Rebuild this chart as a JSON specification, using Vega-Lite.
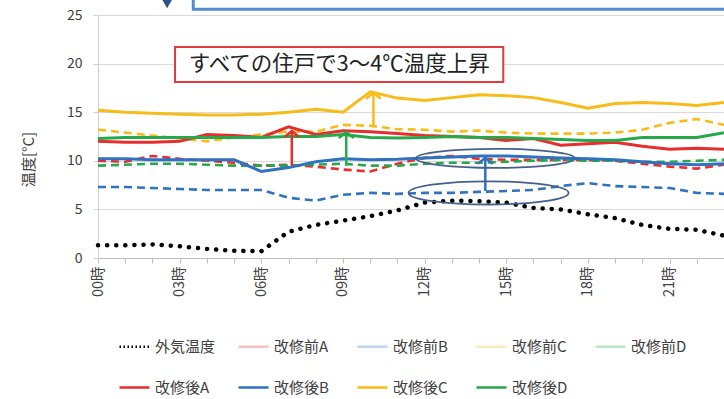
{
  "$schema": "https://vega.github.io/schema/vega-lite/v6.json",
  "autosize": {"type": "none"},
  "padding": {"left": 98, "top": 15, "right": 0, "bottom": 141},
  "width": 626,
  "height": 243,
  "config": {"view": {"stroke": null}, "font": "Noto Sans CJK JP"},
  "datasets": {
    "main": [
      {"h": 0, "外気温度": 1.3, "改修前A": 10.0, "改修前B": 7.3, "改修前C": 13.2, "改修前D": 9.5, "改修後A": 12.0, "改修後B": 10.2, "改修後C": 15.2, "改修後D": 12.3},
      {"h": 1, "外気温度": 1.3, "改修前A": 9.9, "改修前B": 7.3, "改修前C": 12.9, "改修前D": 9.6, "改修後A": 11.9, "改修後B": 10.2, "改修後C": 15.0, "改修後D": 12.4},
      {"h": 2, "外気温度": 1.4, "改修前A": 10.5, "改修前B": 7.2, "改修前C": 12.6, "改修前D": 9.7, "改修後A": 11.9, "改修後B": 10.1, "改修後C": 14.9, "改修後D": 12.4},
      {"h": 3, "外気温度": 1.2, "改修前A": 10.2, "改修前B": 7.1, "改修前C": 12.3, "改修前D": 9.7, "改修後A": 12.0, "改修後B": 10.1, "改修後C": 14.8, "改修後D": 12.4},
      {"h": 4, "外気温度": 0.93, "改修前A": 10.0, "改修前B": 7.0, "改修前C": 12.0, "改修前D": 9.6, "改修後A": 12.7, "改修後B": 10.1, "改修後C": 14.7, "改修後D": 12.4},
      {"h": 5, "外気温度": 0.75, "改修前A": 9.8, "改修前B": 7.0, "改修前C": 12.4, "改修前D": 9.5, "改修後A": 12.6, "改修後B": 10.1, "改修後C": 14.7, "改修後D": 12.4},
      {"h": 6, "外気温度": 0.7, "改修前A": 9.5, "改修前B": 7.0, "改修前C": 12.7, "改修前D": 9.5, "改修後A": 12.4, "改修後B": 8.9, "改修後C": 14.8, "改修後D": 12.4},
      {"h": 7, "外気温度": 2.7, "改修前A": 9.6, "改修前B": 6.2, "改修前C": 13.0, "改修前D": 9.5, "改修後A": 13.5, "改修後B": 9.3, "改修後C": 15.0, "改修後D": 12.5},
      {"h": 8, "外気温度": 3.4, "改修前A": 9.4, "改修前B": 5.9, "改修前C": 13.0, "改修前D": 9.6, "改修後A": 12.7, "改修後B": 9.9, "改修後C": 15.3, "改修後D": 12.5},
      {"h": 9, "外気温度": 3.85, "改修前A": 9.1, "改修前B": 6.5, "改修前C": 13.7, "改修前D": 9.7, "改修後A": 13.1, "改修後B": 10.2, "改修後C": 15.0, "改修後D": 12.7},
      {"h": 10, "外気温度": 4.3, "改修前A": 8.9, "改修前B": 6.7, "改修前C": 13.6, "改修前D": 9.5, "改修後A": 13.0, "改修後B": 10.1, "改修後C": 17.1, "改修後D": 12.4},
      {"h": 11, "外気温度": 4.9, "改修前A": 9.7, "改修前B": 6.6, "改修前C": 13.25, "改修前D": 9.5, "改修後A": 12.8, "改修後B": 10.15, "改修後C": 16.45, "改修後D": 12.35},
      {"h": 12, "外気温度": 5.7, "改修前A": 10.3, "改修前B": 6.7, "改修前C": 13.2, "改修前D": 9.7, "改修後A": 12.6, "改修後B": 10.3, "改修後C": 16.2, "改修後D": 12.4},
      {"h": 13, "外気温度": 5.9, "改修前A": 10.5, "改修前B": 6.7, "改修前C": 13.0, "改修前D": 9.8, "改修後A": 12.5, "改修後B": 10.4, "改修後C": 16.5, "改修後D": 12.5},
      {"h": 14, "外気温度": 5.85, "改修前A": 10.2, "改修前B": 6.8, "改修前C": 13.1, "改修前D": 9.8, "改修後A": 12.4, "改修後B": 10.5, "改修後C": 16.8, "改修後D": 12.4},
      {"h": 15, "外気温度": 5.7, "改修前A": 10.1, "改修前B": 6.9, "改修前C": 12.9, "改修前D": 9.9, "改修後A": 12.1, "改修後B": 10.5, "改修後C": 16.7, "改修後D": 12.4},
      {"h": 16, "外気温度": 5.15, "改修前A": 10.1, "改修前B": 7.0, "改修前C": 12.8, "改修前D": 10.0, "改修後A": 12.3, "改修後B": 10.4, "改修後C": 16.5, "改修後D": 12.3},
      {"h": 17, "外気温度": 5.0, "改修前A": 10.1, "改修前B": 7.4, "改修前C": 12.8, "改修前D": 10.1, "改修後A": 11.6, "改修後B": 10.3, "改修後C": 16.0, "改修後D": 12.2},
      {"h": 18, "外気温度": 4.5, "改修前A": 10.1, "改修前B": 7.7, "改修前C": 12.8, "改修前D": 10.0, "改修後A": 11.75, "改修後B": 10.2, "改修後C": 15.4, "改修後D": 12.1},
      {"h": 19, "外気温度": 4.1, "改修前A": 10.0, "改修前B": 7.4, "改修前C": 12.9, "改修前D": 10.0, "改修後A": 11.9, "改修後B": 10.1, "改修後C": 15.9, "改修後D": 12.1},
      {"h": 20, "外気温度": 3.4, "改修前A": 9.7, "改修前B": 7.3, "改修前C": 13.2, "改修前D": 9.9, "改修後A": 11.5, "改修後B": 9.9, "改修後C": 16.0, "改修後D": 12.4},
      {"h": 21, "外気温度": 3.0, "改修前A": 9.4, "改修前B": 7.2, "改修前C": 13.9, "改修前D": 9.9, "改修後A": 11.2, "改修後B": 9.7, "改修後C": 15.9, "改修後D": 12.4},
      {"h": 22, "外気温度": 2.9, "改修前A": 9.2, "改修前B": 6.7, "改修前C": 14.3, "改修前D": 10.0, "改修後A": 11.3, "改修後B": 9.6, "改修後C": 15.7, "改修後D": 12.4},
      {"h": 23, "外気温度": 2.3, "改修前A": 9.6, "改修前B": 6.6, "改修前C": 13.7, "改修前D": 10.1, "改修後A": 11.2, "改修後B": 9.7, "改修後C": 16.0, "改修後D": 12.9}
    ],
    "arrows": [
      {"s": "改修後A", "h": 7.12, "t": 13.05, "t0": 9.5},
      {"s": "改修後D", "h": 9.12, "t": 12.95, "t0": 9.5},
      {"s": "改修後C", "h": 10.12, "t": 17.0, "t0": 13.6},
      {"s": "改修後B", "h": 14.23, "t": 10.3, "t0": 6.9}
    ],
    "ellipses": [
      {"e": "upper", "h": 14.6, "t": 10.25},
      {"e": "lower", "h": 14.35, "t": 6.7}
    ],
    "box": [{"h": 2.83, "h2": 14.89, "t": 21.7, "t2": 18.1}],
    "boxText": [{"h": 8.86, "t": 19.9, "label": "すべての住戸で3～4℃温度上昇"}],
    "topBox": [{"h": 3.5, "h2": 24.5, "t": 25.6, "t2": 28.5}],
    "topMark": [{"h": 2.54, "t": 26.2}]
  },
  "encoding": {
    "x": {
      "field": "h", "type": "quantitative",
      "scale": {"domain": [0, 23], "nice": false, "zero": false},
      "axis": {
        "title": null,
        "values": [0,1,2,3,4,5,6,7,8,9,10,11,12,13,14,15,16,17,18,19,20,21,22,23],
        "labelExpr": "datum.value % 3 === 0 ? (datum.value < 10 ? '0' : '') + datum.value + '時' : ''",
        "labelAngle": -90,
        "grid": false,
        "tickSize": 5,
        "tickColor": "#bfbfbf",
        "domainColor": "#bfbfbf",
        "labelFontSize": 14.5,
        "labelColor": "#404040",
        "labelPadding": 3,
        "labelOverlap": false,
        "labelFlush": false,
        "labelBound": false
      }
    },
    "y": {
      "field": "t", "type": "quantitative",
      "scale": {"domain": [0, 25], "nice": false},
      "axis": {
        "title": "温度[°C]",
        "values": [0, 5, 10, 15, 20, 25],
        "grid": true,
        "gridColor": "#d9d9d9",
        "domainColor": "#d0d0d0",
        "tickColor": "#d0d0d0",
        "tickSize": 5,
        "labelFontSize": 14,
        "labelColor": "#404040",
        "labelPadding": 11,
        "titleFontSize": 15,
        "titleFontWeight": "normal",
        "titleColor": "#404040",
        "titlePadding": 30,
        "titleY": 144
      }
    }
  },
  "layer": [
    {
      "data": {"name": "topBox"},
      "mark": {"type": "rect", "fill": "#ffffff", "stroke": "#4f8fcf", "strokeWidth": 3},
      "encoding": {"x2": {"field": "h2"}, "y2": {"field": "t2"}}
    },
    {
      "data": {"name": "topMark"},
      "mark": {"type": "point", "shape": "triangle-down", "filled": true, "color": "#2f4f8f", "size": 130, "opacity": 1}
    },
    {
      "data": {"name": "main"},
      "transform": [
        {"fold": ["外気温度","改修前A","改修前B","改修前C","改修前D","改修後A","改修後B","改修後C","改修後D"], "as": ["s", "t"]},
        {"filter": "datum.s === '外気温度'"}
      ],
      "mark": {"type": "line", "strokeDash": [0.1, 9], "strokeCap": "round", "strokeWidth": 4.5},
      "encoding": {
        "color": {
          "field": "s", "type": "nominal",
          "scale": {
            "domain": ["外気温度","改修前A","改修前B","改修前C","改修前D","改修後A","改修後B","改修後C","改修後D"],
            "range": ["#000000","#e62e2e","#2f72c0","#f7bc19","#27a84a","#e62e2e","#2f72c0","#f7bc19","#27a84a"]
          },
          "legend": {
            "title": null, "orient": "none", "legendX": 20, "legendY": 315,
            "direction": "horizontal", "columns": 5, "gridAlign": "all",
            "symbolType": "stroke", "symbolSize": 900, "symbolStrokeWidth": 2.5,
            "labelFontSize": 15, "labelColor": "#404040", "labelFont": "Noto Sans CJK JP",
            "labelOffset": 4, "columnPadding": 17, "rowPadding": 16, "padding": 0, "labelLimit": 200,
            "encode": {"symbols": {"update": {
              "strokeDash": {"signal": "datum.value === '外気温度' ? [1.5, 2.5] : [1, 0]"},
              "opacity": {"signal": "indexof(datum.value, '改修前') === 0 ? 0.3 : 1"}
            }}}
          }
        }
      }
    },
    {
      "data": {"name": "main"},
      "transform": [
        {"fold": ["外気温度","改修前A","改修前B","改修前C","改修前D","改修後A","改修後B","改修後C","改修後D"], "as": ["s", "t"]},
        {"filter": "indexof(datum.s, '改修前') === 0"}
      ],
      "mark": {"type": "line", "strokeDash": [8, 5], "strokeWidth": 2.6},
      "encoding": {
        "color": {
          "field": "s", "type": "nominal",
          "scale": {
            "domain": ["外気温度","改修前A","改修前B","改修前C","改修前D","改修後A","改修後B","改修後C","改修後D"],
            "range": ["#000000","#e62e2e","#2f72c0","#f7bc19","#27a84a","#e62e2e","#2f72c0","#f7bc19","#27a84a"]
          },
          "legend": {
            "title": null, "orient": "none", "legendX": 20, "legendY": 315,
            "direction": "horizontal", "columns": 5, "gridAlign": "all",
            "symbolType": "stroke", "symbolSize": 900, "symbolStrokeWidth": 2.5,
            "labelFontSize": 15, "labelColor": "#404040", "labelFont": "Noto Sans CJK JP",
            "labelOffset": 4, "columnPadding": 17, "rowPadding": 16, "padding": 0, "labelLimit": 200,
            "encode": {"symbols": {"update": {
              "strokeDash": {"signal": "datum.value === '外気温度' ? [1.5, 2.5] : [1, 0]"},
              "opacity": {"signal": "indexof(datum.value, '改修前') === 0 ? 0.3 : 1"}
            }}}
          }
        }
      }
    },
    {
      "data": {"name": "main"},
      "transform": [
        {"fold": ["外気温度","改修前A","改修前B","改修前C","改修前D","改修後A","改修後B","改修後C","改修後D"], "as": ["s", "t"]},
        {"filter": "indexof(datum.s, '改修後') === 0"}
      ],
      "mark": {"type": "line", "strokeWidth": 3},
      "encoding": {
        "color": {
          "field": "s", "type": "nominal",
          "scale": {
            "domain": ["外気温度","改修前A","改修前B","改修前C","改修前D","改修後A","改修後B","改修後C","改修後D"],
            "range": ["#000000","#e62e2e","#2f72c0","#f7bc19","#27a84a","#e62e2e","#2f72c0","#f7bc19","#27a84a"]
          },
          "legend": {
            "title": null, "orient": "none", "legendX": 20, "legendY": 315,
            "direction": "horizontal", "columns": 5, "gridAlign": "all",
            "symbolType": "stroke", "symbolSize": 900, "symbolStrokeWidth": 2.5,
            "labelFontSize": 15, "labelColor": "#404040", "labelFont": "Noto Sans CJK JP",
            "labelOffset": 4, "columnPadding": 17, "rowPadding": 16, "padding": 0, "labelLimit": 200,
            "encode": {"symbols": {"update": {
              "strokeDash": {"signal": "datum.value === '外気温度' ? [1.5, 2.5] : [1, 0]"},
              "opacity": {"signal": "indexof(datum.value, '改修前') === 0 ? 0.3 : 1"}
            }}}
          }
        }
      }
    },
    {
      "data": {"name": "arrows"},
      "mark": {"type": "rule", "strokeWidth": 2.5},
      "encoding": {
        "y2": {"field": "t0"},
        "color": {"field": "s", "type": "nominal"}
      }
    },
    {
      "data": {"name": "arrows"},
      "mark": {"type": "point", "shape": "M -1 0.8 L 0 0 L 1 0.8", "filled": false, "size": 220, "strokeWidth": 2.5, "opacity": 1},
      "encoding": {
        "color": {"field": "s", "type": "nominal"}
      }
    },
    {
      "data": {"name": "ellipses"},
      "transform": [{"filter": "datum.e === 'upper'"}],
      "mark": {"type": "point", "shape": "M -1 0 A 1 0.12 0 1 1 1 0 A 1 0.12 0 1 1 -1 0 Z", "filled": false, "size": 25300, "strokeWidth": 1.8, "color": "#44608c", "opacity": 1}
    },
    {
      "data": {"name": "ellipses"},
      "transform": [{"filter": "datum.e === 'lower'"}],
      "mark": {"type": "point", "shape": "M -1 0 A 1 0.145 0 1 1 1 0 A 1 0.145 0 1 1 -1 0 Z", "filled": false, "size": 25600, "strokeWidth": 1.8, "color": "#44608c", "opacity": 1}
    },
    {
      "data": {"name": "box"},
      "mark": {"type": "rect", "fill": "#ffffff", "stroke": "#e03c3c", "strokeWidth": 2},
      "encoding": {"x2": {"field": "h2"}, "y2": {"field": "t2"}}
    },
    {
      "data": {"name": "boxText"},
      "mark": {"type": "text", "fontSize": 21.5, "color": "#222222", "font": "Noto Sans CJK JP", "align": "center", "baseline": "middle"},
      "encoding": {"text": {"field": "label"}}
    }
  ]
}
